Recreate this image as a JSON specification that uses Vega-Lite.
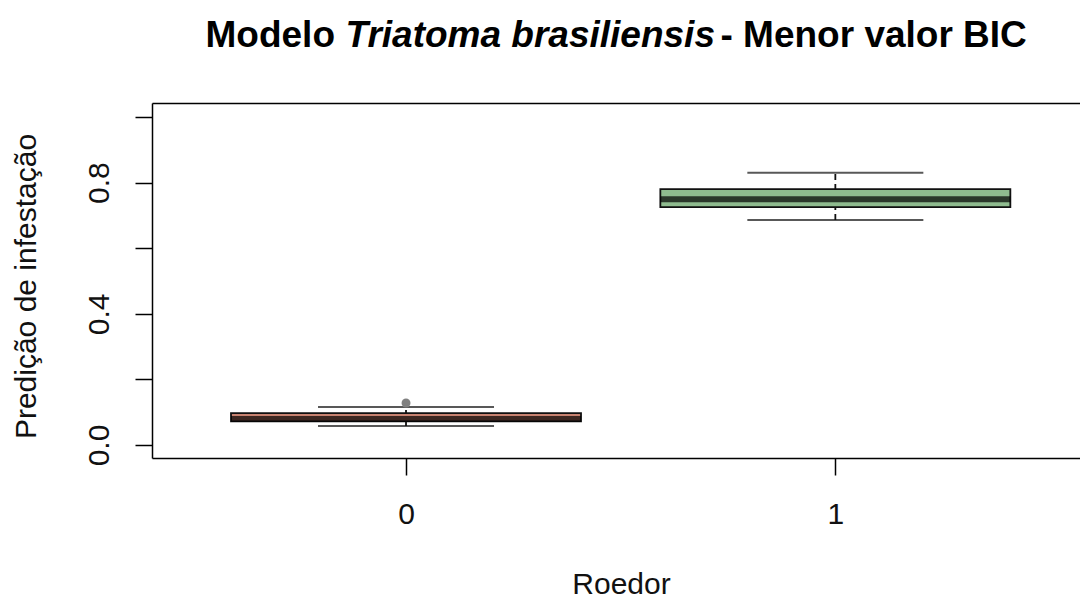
{
  "$schema": "https://vega.github.io/schema/vega-lite/v6.json",
  "width": 928,
  "height": 355,
  "autosize": {"type": "none"},
  "padding": {"left": 152, "top": 103, "right": 0, "bottom": 141},
  "background": "white",
  "config": {
    "view": {"stroke": null},
    "font": "Liberation Sans",
    "axis": {"grid": false, "domainColor": "black", "domainWidth": 1.5, "tickColor": "black", "tickWidth": 1.5, "labelColor": "#111", "titleColor": "#111", "titleFontWeight": "normal", "labelFont": "Liberation Sans", "titleFont": "Liberation Sans"}
  },
  "datasets": {
    "stats": [
      {"Roedor": 0, "min": 0.058, "q1": 0.072, "median": 0.079, "q3": 0.097, "max": 0.116},
      {"Roedor": 1, "min": 0.686, "q1": 0.725, "median": 0.749, "q3": 0.780, "max": 0.830}
    ],
    "outliers": [
      {"Roedor": 0, "value": 0.128}
    ]
  },
  "resolve": {"axis": {"x": "independent", "y": "independent"}},
  "layer": [
    {
      "data": {"name": "stats"},
      "mark": {"type": "rule", "strokeDash": [6, 4], "strokeWidth": 1.8, "color": "#111"},
      "encoding": {
        "x": {"field": "Roedor", "type": "quantitative",
          "scale": {"domain": [-0.58, 1.5582], "nice": false, "zero": false},
          "axis": {"orient": "bottom", "values": [0, 1], "format": "d", "tickSize": 17, "labelFontSize": 30, "labelPadding": 24, "labelFlush": false,
            "title": "Roedor", "titleFontSize": 30, "titleX": 469, "titleY": 135, "titleAlign": "center", "titleBaseline": "alphabetic"}},
        "y": {"field": "min", "type": "quantitative",
          "scale": {"domain": [-0.0396, 1.0427], "nice": false, "zero": false},
          "axis": {"orient": "left", "values": [0, 0.2, 0.4, 0.6, 0.8, 1.0], "tickSize": 17, "labelFontSize": 30, "labelAngle": 270, "labelAlign": "center", "labelBaseline": "alphabetic", "labelPadding": 27, "labelFlush": false, "labelOverlap": false,
            "labelExpr": "(round(datum.value*10) % 4 == 0) ? format(datum.value, '.1f') : ''",
            "title": "Predição de infestação", "titleFontSize": 30, "titleAngle": 270, "titleX": -117, "titleY": 183, "titleAlign": "center", "titleBaseline": "alphabetic"}},
        "y2": {"field": "max"}
      }
    },
    {
      "data": {"name": "stats"},
      "mark": {"type": "bar", "size": 350, "stroke": "#111", "strokeWidth": 1.8},
      "encoding": {
        "x": {"field": "Roedor", "type": "quantitative",
          "axis": {"orient": "top", "ticks": false, "labels": false,
            "title": "Triatoma brasiliensis", "titleFontSize": 37, "titleFontWeight": "bold", "titleFontStyle": "italic", "titleColor": "black",
            "titleX": 193, "titleY": -57, "titleAlign": "left", "titleBaseline": "alphabetic", "titleAngle": 0}},
        "y": {"field": "q1", "type": "quantitative", "axis": null},
        "y2": {"field": "q3"},
        "fill": {"field": "Roedor", "type": "nominal", "scale": {"domain": [0, 1], "range": ["#C88270", "#8FBC8F"]}, "legend": null}
      }
    },
    {
      "data": {"name": "stats"},
      "mark": {"type": "tick", "orient": "horizontal", "size": 350, "thickness": 6, "color": "black"},
      "encoding": {
        "x": {"field": "Roedor", "type": "quantitative",
          "axis": {"orient": "top", "domain": false, "ticks": false, "labels": false,
            "title": "Modelo", "titleFontSize": 37, "titleFontWeight": "bold", "titleColor": "black",
            "titleX": 53, "titleY": -57, "titleAlign": "left", "titleBaseline": "alphabetic", "titleAngle": 0}},
        "y": {"field": "median", "type": "quantitative", "axis": null}
      }
    },
    {
      "data": {"name": "stats"},
      "mark": {"type": "tick", "orient": "horizontal", "size": 176, "thickness": 2, "color": "#111"},
      "encoding": {
        "x": {"field": "Roedor", "type": "quantitative",
          "axis": {"orient": "top", "domain": false, "ticks": false, "labels": false,
            "title": "- Menor valor BIC", "titleFontSize": 37, "titleFontWeight": "bold", "titleColor": "black",
            "titleX": 568, "titleY": -57, "titleAlign": "left", "titleBaseline": "alphabetic", "titleAngle": 0}},
        "y": {"field": "max", "type": "quantitative", "axis": null}
      }
    },
    {
      "data": {"name": "stats"},
      "mark": {"type": "tick", "orient": "horizontal", "size": 176, "thickness": 2, "color": "#111"},
      "encoding": {
        "x": {"field": "Roedor", "type": "quantitative", "axis": null},
        "y": {"field": "min", "type": "quantitative", "axis": null}
      }
    },
    {
      "data": {"name": "outliers"},
      "mark": {"type": "point", "filled": true, "size": 80, "color": "#808080", "opacity": 1},
      "encoding": {
        "x": {"field": "Roedor", "type": "quantitative", "axis": null},
        "y": {"field": "value", "type": "quantitative", "axis": null}
      }
    }
  ]
}
